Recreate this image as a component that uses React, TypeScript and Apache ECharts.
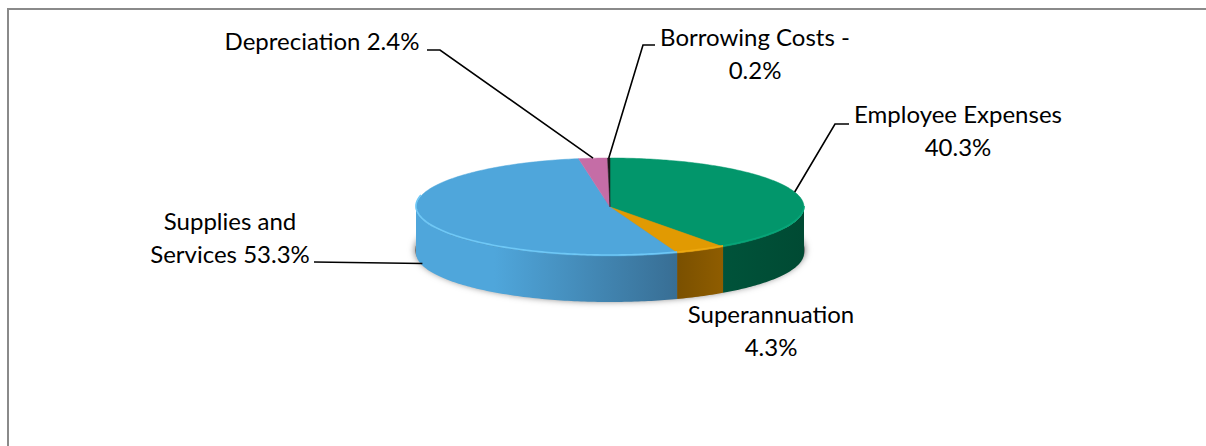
import React, { useEffect, useRef } from "react";
import * as echarts from "echarts";

// Expense shares, clockwise from twelve o'clock.
const categories = ["Employee Expenses", "Superannuation", "Supplies and Services", "Depreciation", "Borrowing Costs"];
const shares = [40.3, 4.3, 53.3, 2.4, 0.2];
const labelLines = [
  ["Employee Expenses", "40.3%"],
  ["Superannuation", "4.3%"],
  ["Supplies and", "Services 53.3%"],
  ["Depreciation 2.4%"],
  ["Borrowing Costs -", "0.2%"],
];

// Disc geometry and slice paint.
const WIDTH = 1206;
const HEIGHT = 446;
const CX = 610;
const CY = 207;
const RX = 194;
const RY = 49;
const DEPTH = 46;
const topColors = ["#02966B", "#E19A02", "#4FA6DB", "#C56DA6", "#1a1a1a"];
const sideGradients = [
  [{ offset: 0, color: "#00533A" }, { offset: 1, color: "#004A33" }],
  [{ offset: 0, color: "#7A5000" }, { offset: 1, color: "#8F5D00" }],
  [
    { offset: 0, color: "#4FA6DB" },
    { offset: 0.3, color: "#4FA6DB" },
    { offset: 1, color: "#386E94" },
  ],
  [{ offset: 0, color: "#8a4a74" }, { offset: 1, color: "#8a4a74" }],
  [{ offset: 0, color: "#111111" }, { offset: 1, color: "#111111" }],
];
const rimColors = ["#06A578", "#EDA810", "#6FC8F6", "#C56DA6", "#1a1a1a"];

// Label anchor (centre of first text line) and the leader's elbow points.
const labelAnchors: [number, number][] = [
  [958, 113.5],
  [771, 313.5],
  [230, 220.5],
  [322, 40],
  [755, 36.5],
];
const leaderElbows: ([number, number][] | null)[] = [
  [[849, 124], [835, 124]],
  null,
  [[314, 262]],
  [[427, 50], [440, 50]],
  [[655, 45], [643, 45]],
];
const FONT = "Lato";
const FONT_SIZE = 24;
const LINE_HEIGHT = 32.5;

const total = shares.reduce((a, b) => a + b, 0);
const toAngle = (v: number) => (v / total) * 360;
const sweepStart = (i: number) => toAngle(shares.slice(0, i).reduce((a, b) => a + b, 0));

const rimPoint = (deg: number, dy = 0): [number, number] => {
  const t = (deg * Math.PI) / 180;
  return [CX + RX * Math.sin(t), CY - RY * Math.cos(t) + dy];
};
const arcPoints = (from: number, to: number, dy = 0) => {
  const pts: [number, number][] = [];
  const n = Math.max(2, Math.ceil(Math.abs(to - from)));
  for (let k = 0; k <= n; k++) pts.push(rimPoint(from + ((to - from) * k) / n, dy));
  return pts;
};

function renderSlice(params: any, api: any) {
  const i = params.dataIndex;
  const start = sweepStart(i);
  const end = start + toAngle(api.value(0));
  const mid = (start + end) / 2;
  const children: any[] = [];

  // Soft ground shadow under the disc, painted once before everything else.
  if (i === 0) {
    children.push({
      type: "ellipse",
      shape: { cx: CX, cy: CY + DEPTH - 3, rx: RX + 1, ry: RY + 2 },
      style: { fill: "#777", shadowBlur: 7, shadowColor: "rgba(0,0,0,0.55)" },
    });
  }

  // Front wall: only the part of the rim facing the viewer, 90° to 270°.
  const a = Math.max(start, 90);
  const b = Math.min(end, 270);
  if (b > a) {
    const upper = arcPoints(a, b);
    const lower = arcPoints(b, a, DEPTH);
    children.push({
      type: "polygon",
      shape: { points: [...upper, ...lower] },
      style: {
        // Walls shade from left to right across the slice's own extent.
        fill: new echarts.graphic.LinearGradient(0, 0, 1, 0, sideGradients[i]),
      },
    });
  }

  // Top face.
  children.push({
    type: "polygon",
    shape: { points: [[CX, CY], ...arcPoints(start, end)] },
    style: { fill: topColors[i], stroke: topColors[i], lineWidth: 0.5 },
  });

  // Bright bevel along the front of the top face.
  const rimA = Math.max(start, 90);
  const rimB = Math.min(end, 283);
  if (rimB > rimA) {
    children.push({
      type: "polyline",
      shape: { points: arcPoints(rimA, rimB, -1) },
      style: { fill: "none", stroke: rimColors[i], lineWidth: 1.6 },
    });
  }

  // Leader line, from the text to the slice's mid-angle on the disc.
  const elbows = leaderElbows[i];
  if (elbows) {
    const onWall = mid > 90 && mid < 270;
    children.push({
      type: "polyline",
      shape: { points: [...elbows, rimPoint(mid, onWall ? DEPTH - 2 : 0)] },
      style: { fill: "none", stroke: "#000", lineWidth: 1.6 },
    });
  }

  // Label text.
  const [lx, ly] = labelAnchors[i];
  labelLines[i].forEach((line, k) => {
    children.push({
      type: "text",
      style: {
        text: line,
        x: lx,
        y: ly + k * LINE_HEIGHT,
        fill: "#000",
        align: "center",
        verticalAlign: "middle",
        font: `${FONT_SIZE}px ${FONT}, sans-serif`,
      },
    });
  });

  return { type: "group", children };
}

export default function App() {
  const ref = useRef<HTMLDivElement>(null);
  useEffect(() => {
    const chart = echarts.init(ref.current!, undefined, { renderer: "svg" });
    chart.setOption({
      animation: false,
      backgroundColor: "#fff",
      graphic: [
        {
          type: "polyline",
          shape: { points: [[8, HEIGHT], [8, 9], [WIDTH, 9]] },
          style: { fill: "none", stroke: "#8a8a8a", lineWidth: 2 },
        },
      ],
      series: [
        {
          type: "custom",
          coordinateSystem: "none",
          silent: true,
          clip: false,
          renderItem: renderSlice,
          data: categories.map((name, i) => ({ name, value: shares[i] })),
        },
      ],
    });
    return () => chart.dispose();
  }, []);
  return (
    <div
      ref={ref}
      style={{ position: "fixed", left: 0, top: 0, width: WIDTH, height: HEIGHT }}
    />
  );
}
